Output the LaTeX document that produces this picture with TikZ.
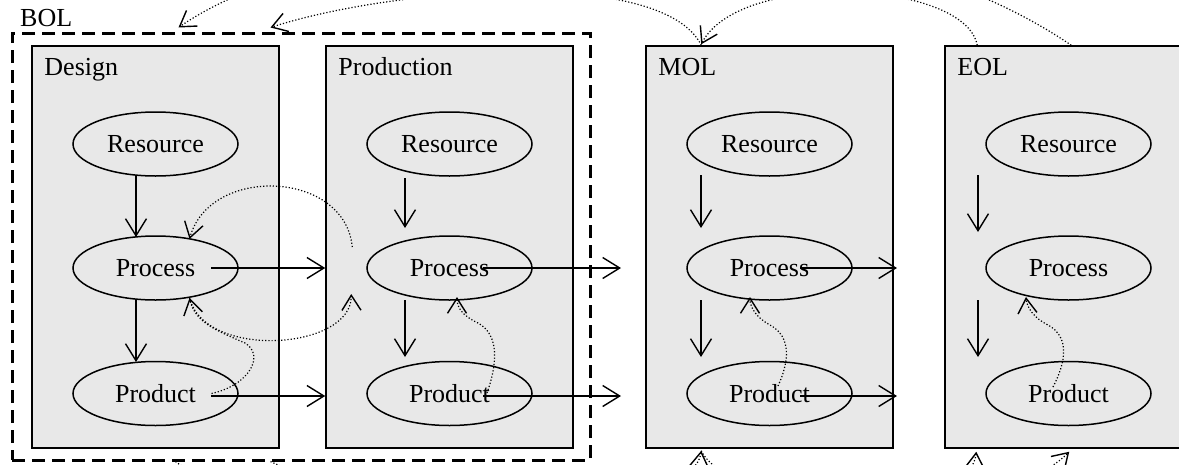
\documentclass[tikz,border=0pt]{standalone}
\usepackage{fontspec}
\setmainfont{Liberation Serif}
\usetikzlibrary{arrows.meta,shapes.geometric,calc}
\definecolor{panel}{RGB}{232,232,232}
\begin{document}
\begin{tikzpicture}[x=1pt,y=-1pt,
  font=\fontsize{26}{30}\selectfont,
  stagebox/.style={draw=black, fill=panel, line width=1.5pt,
    minimum width=247pt, minimum height=402pt, inner sep=0pt},
  phasebox/.style={draw=black, line width=3pt, dash pattern=on 13pt off 7pt,
    minimum width=578pt, minimum height=427pt, inner sep=0pt},
  itemell/.style={draw=black, ellipse, line width=1.5pt,
    minimum width=165pt, minimum height=64pt, inner sep=0pt},
  stagelabel/.style={anchor=base west, inner sep=0pt},
  fwdarrow/.style={line width=1.4pt,
    -{Straight Barb[length=17pt,width=21pt,line width=1.4pt]}},
  backarrow/.style={line width=1.2pt, dash pattern=on 1.2pt off 2pt,
    -{Straight Barb[length=15pt,width=19pt,line width=1.4pt]}}]

\useasboundingbox (0,0) rectangle (1179,464);
\clip (0,0) rectangle (1179,464);

% lifecycle stages
\node[stagebox] (design) at (155.5,247) {};
\node[stagebox] (prod)   at (449.5,247) {};
\node[stagebox] (mol)    at (769.5,247) {};
\node[stagebox] (eol)    at (1068.5,247) {};

% beginning of life groups design and production
\node[phasebox] (bol) at (301,246.5) {};
\node[stagelabel] (bollab) at (20,26) {BOL};

\node[stagelabel] (designlab) at ($(design.north west)+(13,30)$) {Design};
\node[stagelabel] (prodlab)   at ($(prod.north west)+(13,30)$) {Production};
\node[stagelabel] (mollab)    at ($(mol.north west)+(13,30)$) {MOL};
\node[stagelabel] (eollab)    at ($(eol.north west)+(13,30)$) {EOL};

% resource / process / product in every stage
\node[itemell] (r1)  at (155.5,144)   {Resource};
\node[itemell] (p1)  at (155.5,268)   {Process};
\node[itemell] (pr1) at (155.5,393.5) {Product};
\node[itemell] (r2)  at (449.5,144)   {Resource};
\node[itemell] (p2)  at (449.5,268)   {Process};
\node[itemell] (pr2) at (449.5,393.5) {Product};
\node[itemell] (r3)  at (769.5,144)   {Resource};
\node[itemell] (p3)  at (769.5,268)   {Process};
\node[itemell] (pr3) at (769.5,393.5) {Product};
\node[itemell] (r4)  at (1068.5,144)  {Resource};
\node[itemell] (p4)  at (1068.5,268)  {Process};
\node[itemell] (pr4) at (1068.5,393.5){Product};

% vertical flows inside the stages
\draw[fwdarrow] ($(r1)+(-19.5,31)$) -- ($(p1)+(-19.5,-31)$);
\draw[fwdarrow] ($(p1)+(-19.5,31)$) -- ($(pr1)+(-19.5,-31.5)$);
\draw[fwdarrow] ($(r2)+(-44.5,34)$) -- ($(p2)+(-44.5,-40)$);
\draw[fwdarrow] ($(p2)+(-44.5,32)$) -- ($(pr2)+(-44.5,-36.5)$);
\draw[fwdarrow] ($(r3)+(-68.5,31)$) -- ($(p3)+(-68.5,-40)$);
\draw[fwdarrow] ($(p3)+(-68.5,32)$) -- ($(pr3)+(-68.5,-36.5)$);
\draw[fwdarrow] ($(r4)+(-90.5,31)$) -- ($(p4)+(-90.5,-36)$);
\draw[fwdarrow] ($(p4)+(-90.5,32)$) -- ($(pr4)+(-90.5,-36.5)$);

% forward flows between the stages
\draw[fwdarrow] ($(p1)+(55.5,0)$) -- (p1 -| prod.west);
\draw[fwdarrow] ($(pr1)+(55.5,2.5)$) -- ($(pr1 -| prod.west)+(0,2.5)$);
\draw[fwdarrow] ($(p2)+(33.5,0)$) -- ($(p2)+(171.5,0)$);
\draw[fwdarrow] ($(pr2)+(33.5,2.5)$) -- ($(pr2)+(171.5,2.5)$);
\draw[fwdarrow] ($(p3)+(30.5,0)$) -- ($(p3)+(127.5,0)$);
\draw[fwdarrow] ($(pr3)+(30.5,2.5)$) -- ($(pr3)+(127.5,2.5)$);

% feedback from product to process
\draw[backarrow] ($(pr1)+(56,0)$) .. controls (250,385) and (265,355) .. (245,343)
  .. controls (215,330) and (195,322) .. ($(p1)+(34,30)$);
\draw[backarrow] ($(pr2)+(37.5,-0.5)$) .. controls (497,365) and (500,335) .. (478,323)
  .. controls (463,316) and (457,308) .. ($(p2)+(7.5,29)$);
\draw[backarrow] ($(pr3)+(8.5,-7.5)$) .. controls (789,362) and (792,337) .. (770,325)
  .. controls (757,318) and (750,308) .. ($(p3)+(-19.5,29)$);
\draw[backarrow] ($(pr4)+(-15.5,-6.5)$) .. controls (1066,362) and (1070,337) .. (1048,325)
  .. controls (1034,318) and (1027,308) .. ($(p4)+(-42.5,29)$);

% loop between design and production
\coordinate (gapTop) at ($(prod.west)+(27,0)$);
\coordinate (gapBot) at ($(prod.west)+(26,47)$);
\draw[backarrow] (gapTop) .. controls (345,170) and (210,165) .. ($(p1)+(34,-29)$);
\draw[backarrow] ($(p1)+(34,30)$) .. controls (205,360) and (352,350) .. (gapBot);

% feedback between the life phases (above)
\coordinate (molTop)  at ($(mol.north west)+(56,-1)$);
\coordinate (molTopS) at ($(mol.north west)+(56,0)$);
\coordinate (eolTopA) at ($(eol.north west)+(33,0)$);
\coordinate (eolTopB) at ($(eol.north west)+(127,0)$);
\coordinate (bolTopA) at ($(bol.north west)+(168,-4)$);
\coordinate (bolTopB) at ($(bol.north west)+(260,-4)$);
\draw[backarrow] (eolTopA) .. controls (965,-20) and (740,-30) .. (molTop);
\draw[backarrow] (molTopS) .. controls (662,-34) and (392,-12) .. (bolTopB);
\draw[backarrow] (eolTopB) .. controls (820,-126) and (340,-84) .. (bolTopA);

% information flows between the life phases (below)
\coordinate (bolBotA) at ($(bol.south west)+(165,0)$);
\coordinate (bolBotB) at ($(bol.south west)+(260,0)$);
\coordinate (molBot)  at ($(mol.south west)+(56,2)$);
\coordinate (eolBotA) at ($(eol.south west)+(32,3)$);
\coordinate (eolBotB) at ($(eol.south west)+(125,3)$);
\draw[backarrow] (bolBotB) .. controls (392,520) and (692,520) .. (molBot);
\draw[backarrow] (molBot) .. controls (730,510) and (970,520) .. (eolBotA);
\draw[backarrow] (bolBotA) .. controls (330,580) and (960,560) .. (eolBotB);
\end{tikzpicture}
\end{document}
